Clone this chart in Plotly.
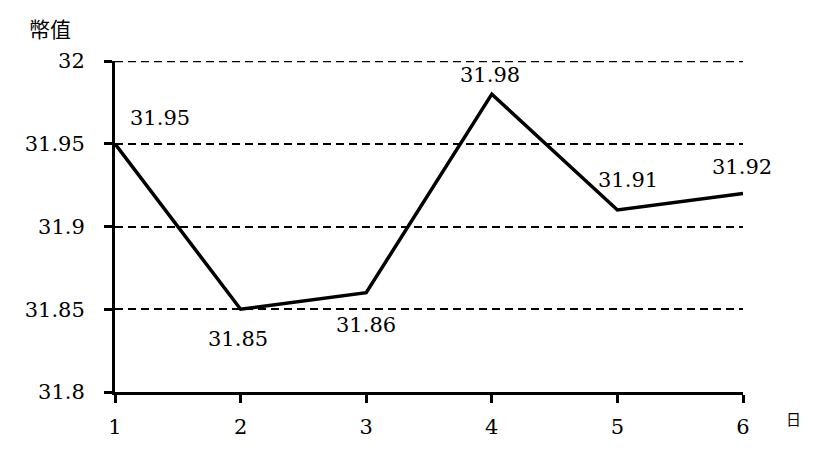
import plotly.graph_objects as go

days = [1, 2, 3, 4, 5, 6]
values = [31.95, 31.85, 31.86, 31.98, 31.91, 31.92]
y_ticks = [31.8, 31.85, 31.9, 31.95, 32]
y_tick_labels = ["31.8", "31.85", "31.9", "31.95", "32"]
label_offsets = [(45, 26), (-3, -30), (0, -32), (-2, 19), (11, 30), (-1, 26)]

FONT = "DejaVu Serif"
DASH = "8px,5px"

fig = go.Figure()
fig.add_trace(go.Scatter(x=days, y=values, mode="lines",
                         line=dict(color="black", width=3.5), hoverinfo="skip",
                         cliponaxis=False))

for d, v, (dx, dy) in zip(days, values, label_offsets):
    fig.add_annotation(x=d, y=v, text=f"{v:g}", showarrow=False,
                       xshift=dx, yshift=dy, font=dict(family=FONT, size=21, color="black"))

# dashed gridline at the top of the range (plotly hides the edge gridline)
fig.add_shape(type="line", xref="paper", yref="y", x0=0, x1=1,
              y0=y_ticks[-1], y1=y_ticks[-1],
              line=dict(color="black", width=2.6, dash=DASH), layer="below")

fig.add_annotation(xref="paper", yref="paper", x=-0.14, y=1.1, text="幣值",
                   showarrow=False, xanchor="left", yanchor="middle",
                   font=dict(family="Noto Sans CJK TC", size=21, color="black"))
fig.add_annotation(xref="paper", yref="paper", x=1.08, y=-0.08, text="日",
                   showarrow=False, xanchor="center", yanchor="middle",
                   font=dict(family="Noto Sans CJK TC", size=15, color="black"))

fig.update_layout(
    width=824, height=444,
    margin=dict(l=107, r=89, t=53, b=60),
    paper_bgcolor="white", plot_bgcolor="white",
    showlegend=False,
    font=dict(family=FONT, size=21, color="black"),
    xaxis=dict(range=[1, 6], tickvals=days, ticktext=[str(d) for d in days],
               showgrid=False, zeroline=False, showline=True, linecolor="black",
               linewidth=3, ticks="outside", ticklen=8, tickwidth=3, tickcolor="black",
               ticklabelstandoff=6),
    yaxis=dict(range=[31.8, 32], tickvals=y_ticks, ticktext=y_tick_labels,
               showgrid=True, gridcolor="black", griddash=DASH, gridwidth=1.8,
               zeroline=False, showline=True, linecolor="black", linewidth=3,
               ticks="outside", ticklen=8, tickwidth=3, tickcolor="black",
               ticklabelstandoff=15),
)

fig.write_html("out.html")
